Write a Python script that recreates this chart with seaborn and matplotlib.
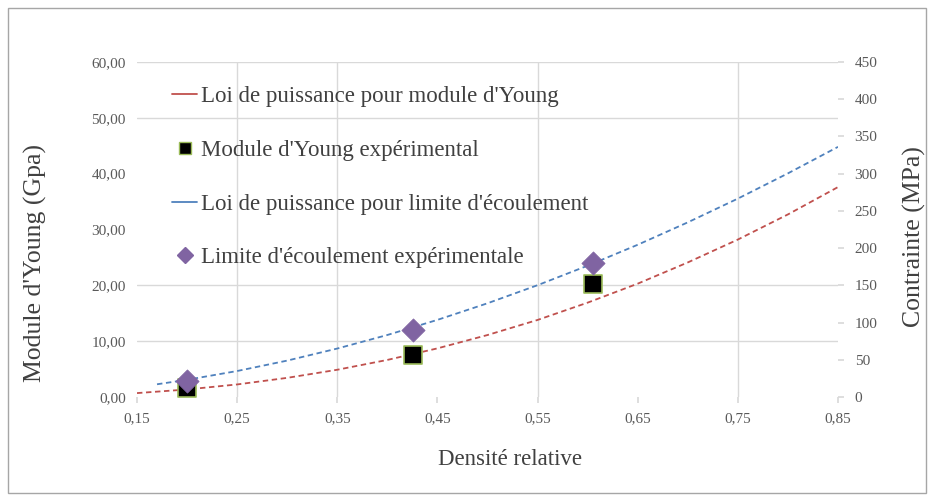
import matplotlib
matplotlib.use("Agg")
import matplotlib.pyplot as plt
from matplotlib.lines import Line2D
from matplotlib.patches import Rectangle
from matplotlib.ticker import FuncFormatter, MultipleLocator
import seaborn as sns
import pandas as pd

# ---- data ----
dens_exp = [0.20, 0.426, 0.605]
young_exp = [1.6, 7.5, 20.2]          # GPa (left axis)
yield_exp = [21.5, 90.0, 180.0]       # MPa (right axis)

curve_x_red = [0.15, 0.20, 0.25, 0.30, 0.35, 0.40, 0.45, 0.50, 0.55, 0.60, 0.65, 0.70, 0.75, 0.80, 0.85]
curve_young = [0.70, 1.35, 2.25, 3.43, 4.88, 6.64, 8.71, 11.1, 13.8, 16.9, 20.3, 24.1, 28.2, 32.7, 37.6]

curve_x_blue = [0.17, 0.20, 0.25, 0.30, 0.35, 0.40, 0.45, 0.50, 0.55, 0.60, 0.65, 0.70, 0.75, 0.80, 0.85]
curve_yield = [17.1, 23.1, 34.9, 48.9, 65.1, 83.3, 103.6, 125.9, 150.2, 176.4, 204.5, 234.6, 266.5, 300.4, 336.0]

x_ticks = [0.15, 0.25, 0.35, 0.45, 0.55, 0.65, 0.75, 0.85]
visible_vgrid = [0.25, 0.35, 0.55, 0.75]
visible_hgrid = [10, 20, 50, 60]
legend_labels = ["Loi de puissance pour module d'Young",
                 "Module d'Young expérimental",
                 "Loi de puissance pour limite d'écoulement",
                 "Limite d'écoulement expérimentale"]

RED = "#C0504D"
BLUE = "#4F81BD"
PURPLE = "#8064A2"
GREEN = "#9BBB59"
GRID = "#D9D9D9"
TXT = "#404040"

sns.set_theme(style="white")
plt.rcParams['font.family'] = ['Liberation Serif', 'DejaVu Serif']

fig = plt.figure(figsize=(9.34, 5.01), dpi=100)
fig.patches.append(Rectangle((8/934, 8/501), 918/934, 485/501, transform=fig.transFigure,
                             fill=False, edgecolor="#A6A6A6", linewidth=1.0))
ax = fig.add_axes([137/934, 1-397/501, (838-137)/934, (397-62)/501])
ax2 = ax.twinx()

df_r = pd.DataFrame({"x": curve_x_red, "y": curve_young})
df_b = pd.DataFrame({"x": curve_x_blue, "y": curve_yield})
df_e = pd.DataFrame({"x": dens_exp, "E": young_exp, "S": yield_exp})

for v in visible_vgrid:
    ax.axvline(v, color=GRID, linewidth=1.0, zorder=0)
for h in visible_hgrid:
    ax.axhline(h, color=GRID, linewidth=1.0, zorder=0)

sns.lineplot(data=df_r, x="x", y="y", ax=ax, color=RED, linewidth=1.3,
             linestyle=(0, (3, 2)), zorder=3)
sns.scatterplot(data=df_e, x="x", y="E", ax=ax, marker="s", s=150, color="black",
                edgecolor=GREEN, linewidth=1.2, zorder=4)
sns.lineplot(data=df_b, x="x", y="y", ax=ax2, color=BLUE, linewidth=1.3,
             linestyle=(0, (3, 2)), zorder=3)
sns.scatterplot(data=df_e, x="x", y="S", ax=ax2, marker="D", s=140, color=PURPLE,
                edgecolor=PURPLE, linewidth=0.5, zorder=4)

ax.set_xlim(0.15, 0.85)
ax.set_ylim(0, 60)
ax2.set_ylim(0, 450)
ax.set_xticks(x_ticks)
ax.yaxis.set_major_locator(MultipleLocator(10))
ax2.yaxis.set_major_locator(MultipleLocator(50))
ax.xaxis.set_major_formatter(FuncFormatter(lambda v, p: f"{v:.2f}".replace(".", ",")))
ax.yaxis.set_major_formatter(FuncFormatter(lambda v, p: f"{v:.2f}".replace(".", ",")))
ax2.yaxis.set_major_formatter(FuncFormatter(lambda v, p: f"{v:.0f}"))

ax.grid(False)
ax2.grid(False)
for a in (ax, ax2):
    for s in a.spines.values():
        s.set_visible(False)

ax.tick_params(axis="x", labelsize=11, colors="#595959", length=4, color=GRID, pad=7, bottom=True)
ax.tick_params(axis="y", labelsize=11, colors="#595959", length=0, pad=8)
ax2.tick_params(axis="y", labelsize=11, colors="#595959", length=4, color=GRID, pad=8, right=True)

ax.set_xlabel("Densité relative", fontsize=16.5, color=TXT)
ax.set_ylabel("Module d'Young (Gpa)", fontsize=18.5, color=TXT)
ax2.set_ylabel("Contrainte (MPa)", fontsize=18.5, color=TXT, rotation=90)
ax.xaxis.set_label_coords(0.532, -0.155)
ax.yaxis.set_label_coords(-0.128, 0.40)
ax2.yaxis.set_label_coords(1.092, 0.478)

handles = [Line2D([0], [0], color=RED, lw=1.3),
           Line2D([0], [0], marker="s", color="black", markeredgecolor=GREEN, linestyle="none", markersize=9),
           Line2D([0], [0], color=BLUE, lw=1.3),
           Line2D([0], [0], marker="D", color=PURPLE, linestyle="none", markersize=8)]
leg = ax2.legend(handles, legend_labels, loc="upper left", bbox_to_anchor=(0.05, 0.927),
                 frameon=False, fontsize=16.5, labelspacing=1.42, handlelength=1.1,
                 handletextpad=0.15, borderpad=0, borderaxespad=0, labelcolor=TXT)
leg.set_zorder(10)

fig.savefig("out.png", dpi=100)
